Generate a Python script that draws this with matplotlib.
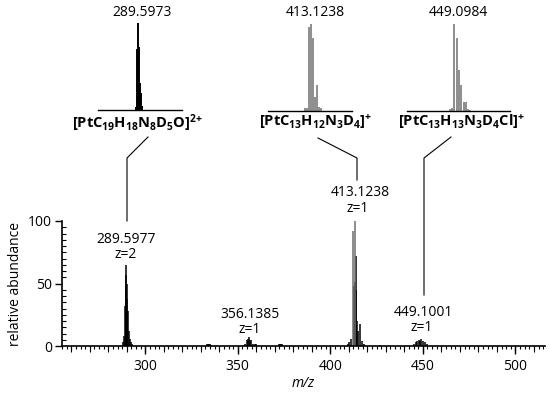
import matplotlib
matplotlib.use('Agg')
import matplotlib.pyplot as plt
from matplotlib.lines import Line2D
from matplotlib.ticker import MultipleLocator

plt.rcParams['font.family'] = ['Open Sans', 'DejaVu Sans']
plt.rcParams['mathtext.fontset'] = 'custom'
plt.rcParams['mathtext.rm'] = 'Open Sans'
plt.rcParams['mathtext.bf'] = 'Open Sans:bold'
plt.rcParams['mathtext.it'] = 'Open Sans:italic'

# 메인 스펙트럼 (m/z, relative abundance)
main_mz = [288.1, 288.6, 289.1, 289.35, 289.6, 289.85, 290.1, 290.35, 290.6, 291.1, 291.6, 292.1, 292.6,
           333.5, 334.0, 334.5, 335.0, 335.5,
           354.1, 355.1, 355.6, 356.1, 356.6, 357.1, 358.1, 359.1, 360.1,
           372.5, 373.0, 373.5, 374.0,
           409.6, 410.1, 411.1, 412.6, 413.4, 413.8, 414.1, 414.6, 415.1, 416.1, 417.1, 418.1,
           427.0,
           445.1, 446.1, 447.1, 448.1, 448.6, 449.1, 450.1, 451.1, 452.1]
main_int = [3, 8, 32, 45, 65, 57, 50, 38, 28, 12, 6, 3, 2,
            1.5, 2, 2, 1.5, 1,
            2, 5, 6, 7, 5, 5, 2, 1.5, 2,
            1.5, 2, 2, 1.5,
            2, 3, 6, 48, 51, 45, 72, 20, 12, 18, 4, 2,
            1,
            2, 3, 4, 5, 4, 6, 4, 3, 1.5]
# 회색으로 보이는 두 개의 큰 피크
gray_mz = [412.1, 413.1]
gray_int = [92, 100]

# inset 1 : 289.5973
ins1_mz = [288.6, 289.1, 289.6, 290.1, 290.6, 291.1, 291.6]
ins1_int = [3, 70, 100, 72, 31, 20, 5]
# inset 2 : 413.1238
ins2_mz = [410.1, 411.1, 412.1, 413.1, 414.1, 415.1, 416.1, 417.1, 418.1]
ins2_int = [3, 3, 97, 100, 84, 16, 30, 5, 3]
# inset 3 : 449.0984
ins3_mz = [447.1, 448.1, 449.1, 450.1, 451.1, 452.1, 453.1, 454.1, 455.1, 456.1]
ins3_int = [2, 3, 100, 84, 47, 30, 10, 10, 2, 1]

W, H = 550, 397


def px(x, y):
    return x / W, 1 - y / H


fig = plt.figure(figsize=(5.5, 3.97), dpi=100)

# 메인 축
ax = fig.add_axes([62 / W, 1 - 346 / H, (545 - 62) / W, 125 / H])
ax.vlines(main_mz, 0, main_int, colors='black', lw=1.1)
ax.vlines(gray_mz, 0, gray_int, colors='#6e6e6e', lw=1.1)
ax.set_xlim(255, 516)
ax.set_ylim(0, 100)
ax.spines['top'].set_visible(False)
ax.spines['right'].set_visible(False)
ax.spines['left'].set_linewidth(1.2)
ax.spines['bottom'].set_linewidth(1.2)

ax.xaxis.set_major_locator(MultipleLocator(50))
ax.xaxis.set_minor_locator(MultipleLocator(2.5))
ax.tick_params(axis='x', which='major', length=6, width=1, direction='out', labelsize=10, pad=3)
ax.tick_params(axis='x', which='minor', length=2, width=0.8, direction='out')
ax.yaxis.set_major_locator(MultipleLocator(50))
ax.yaxis.set_minor_locator(MultipleLocator(5))
ax.tick_params(axis='y', which='major', length=5, width=1, direction='out', labelsize=10, pad=2)
ax.tick_params(axis='y', which='minor', length=3, width=0.8, direction='in')

# 10 단위 중간 눈금
sec = ax.secondary_xaxis('bottom')
sec.xaxis.set_major_locator(MultipleLocator(10))
sec.tick_params(length=4, width=0.8, labelbottom=False)
sec.spines['bottom'].set_visible(False)

ax.set_ylabel('relative abundance', fontsize=10, labelpad=4)
ax.set_xlabel('m/z', fontsize=10, style='italic', labelpad=2)

# 피크 라벨
ax.text(289.6, 85, '289.5977', ha='center', va='center', fontsize=10)
ax.text(289.6, 73, 'z=2', ha='center', va='center', fontsize=10)
ax.text(356.6, 25, '356.1385', ha='center', va='center', fontsize=10)
ax.text(356.6, 13, 'z=1', ha='center', va='center', fontsize=10)
ax.text(416.1, 123, '413.1238', ha='center', va='center', fontsize=10, clip_on=False)
ax.text(415.0, 110, 'z=1', ha='center', va='center', fontsize=10, clip_on=False)
ax.text(450.1, 26.5, '449.1001', ha='center', va='center', fontsize=10)
ax.text(449.6, 15, 'z=1', ha='center', va='center', fontsize=10)

# inset 들
def inset(x0, x1, yb, xlim, mz, inten, color, lw):
    a = fig.add_axes([x0 / W, 1 - yb / H, (x1 - x0) / W, 87 / H])
    a.vlines(mz, 0, inten, colors=color, lw=lw)
    a.set_xlim(*xlim)
    a.set_ylim(0, 100)
    for s in ['top', 'right', 'left']:
        a.spines[s].set_visible(False)
    a.spines['bottom'].set_linewidth(1.0)
    a.set_xticks([])
    a.set_yticks([])
    a.patch.set_alpha(0)
    return a


inset(98, 182, 110, (269.45, 311.45), ins1_mz, ins1_int, 'black', 1.4)
inset(268, 352, 111, (391.45, 433.45), ins2_mz, ins2_int, '#7a7a7a', 1.2)
inset(407, 510, 111, (428.5, 473.3), ins3_mz, ins3_int, '#7a7a7a', 1.2)

fig.text(*px(142, 12), '289.5973', ha='center', va='center', fontsize=10)
fig.text(*px(315, 12), '413.1238', ha='center', va='center', fontsize=10)
fig.text(*px(458.5, 12), '449.0984', ha='center', va='center', fontsize=10)

fig.text(*px(137, 112), r'$\mathbf{[PtC_{19}H_{18}N_{8}D_{5}O]^{2{+}}}$', ha='center', va='top', fontsize=10.5)
fig.text(*px(316, 112), r'$\mathbf{[PtC_{13}H_{12}N_{3}D_{4}]^{{+}}}$', ha='center', va='top', fontsize=10.5)
fig.text(*px(462, 112), r'$\mathbf{[PtC_{13}H_{13}N_{3}D_{4}Cl]^{{+}}}$', ha='center', va='top', fontsize=10.5)

# 연결선
lines = [
    [(148, 137), (127, 158), (127, 221)],
    [(318, 138), (357, 158), (357, 180)],
    [(451, 137), (424, 158), (424, 295)],
]
for pts in lines:
    xs = [p[0] / W for p in pts]
    ys = [1 - p[1] / H for p in pts]
    fig.add_artist(Line2D(xs, ys, transform=fig.transFigure, color='black', lw=0.8))

fig.savefig('out.png', dpi=100)
